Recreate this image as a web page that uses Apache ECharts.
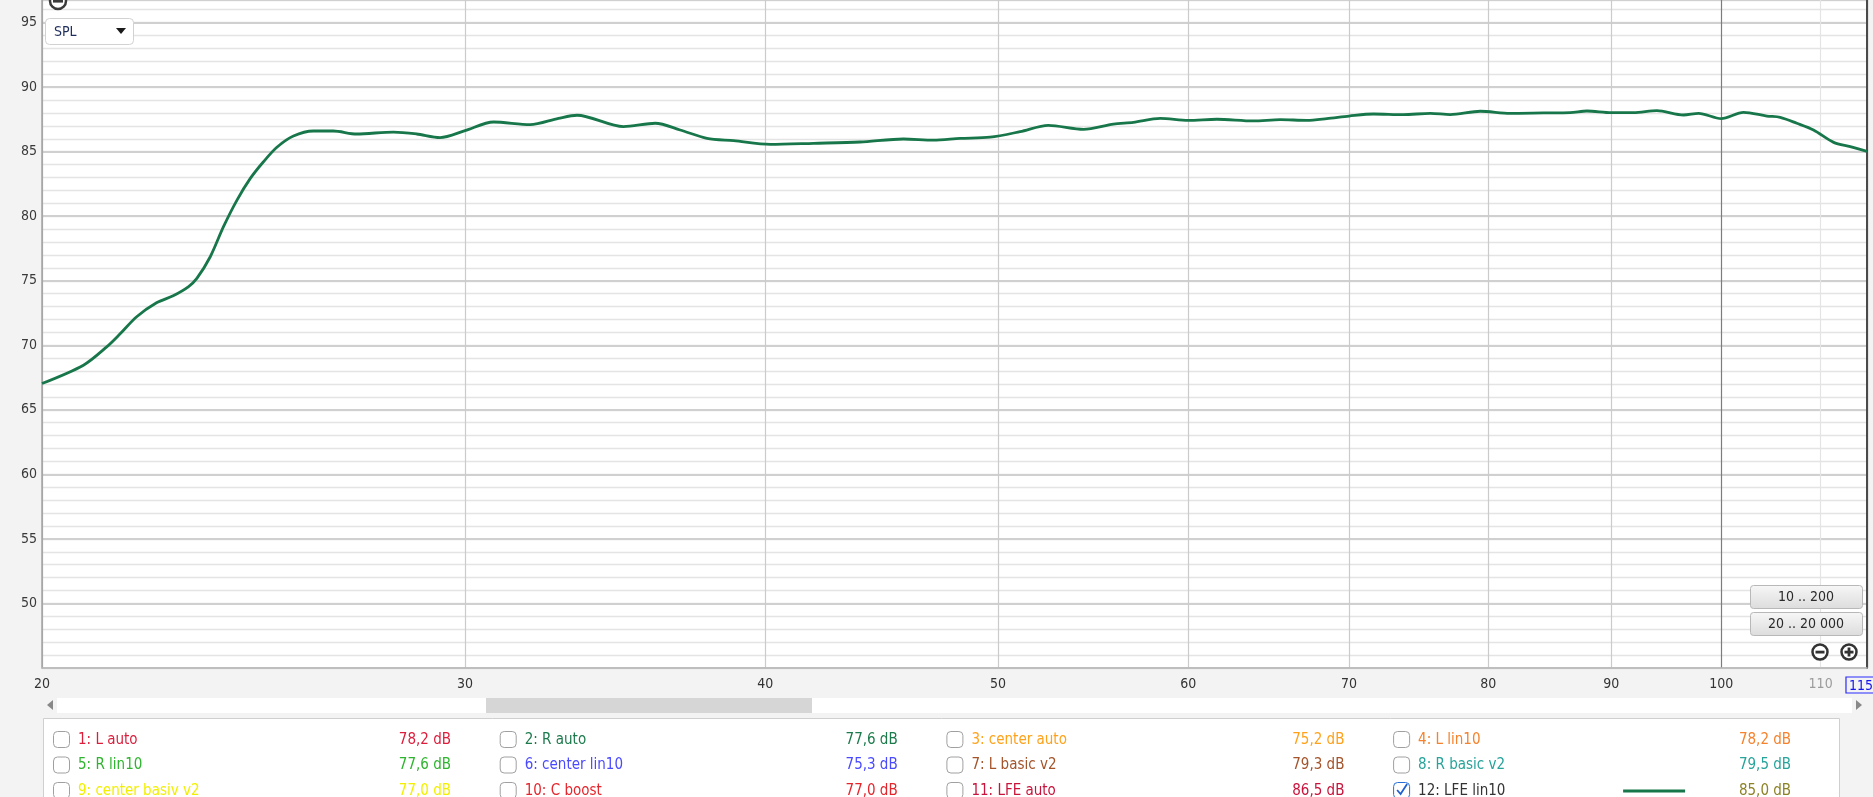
<!DOCTYPE html>
<html><head><meta charset="utf-8">
<script src="https://cdn.jsdelivr.net/npm/echarts@6/dist/echarts.min.js"></script>
<style>html,body{margin:0;padding:0;background:#f3f3f3}#c{width:1873px;height:797px}</style>
</head><body><div id="c"></div><script>
// ---- data ----
const freqHz = [20.0,20.81,21.28,21.55,21.90,22.32,22.68,23.01,23.20,23.50,23.80,24.11,24.42,24.73,25.05,25.45,25.94,26.44,27.04,28.01,28.64,29.29,30.0,30.83,31.93,32.81,33.40,34.92,36.0,36.87,37.83,38.81,40.19,41.90,43.81,45.67,47.00,48.22,49.62,51.07,52.47,54.27,55.85,56.93,58.41,60.0,61.67,63.87,65.53,67.22,68.52,70.0,71.66,73.74,75.67,77.13,79.38,81.69,84.34,86.52,87.93,90.0,91.95,94.02,96.45,97.86,100.0,102.17,104.48,105.82,107.52,109.25,111.38,113.17,115.0];
const splDb = [67.04,68.46,69.88,70.87,72.21,73.29,73.84,74.53,75.18,76.86,79.19,81.25,82.93,84.22,85.34,86.21,86.60,86.60,86.37,86.52,86.37,86.09,86.63,87.30,87.09,87.58,87.82,86.94,87.20,86.68,86.03,85.85,85.57,85.65,85.75,85.98,85.90,86.03,86.12,86.55,87.04,86.73,87.14,87.27,87.58,87.43,87.51,87.38,87.48,87.43,87.56,87.76,87.92,87.87,87.97,87.87,88.13,87.97,88.00,88.02,88.15,88.02,88.02,88.18,87.84,87.97,87.56,88.05,87.76,87.66,87.20,86.68,85.72,85.39,85.03];
const xTickValues = [20,30,40,50,60,70,80,90,100,110,115];
const yTickValues = [50,55,60,65,70,75,80,85,90,95];
const legendNames = ['1: L auto','2: R auto','3: center auto','4: L lin10','5: R lin10','6: center lin10','7: L basic v2','8: R basic v2','9: center basiv v2','10: C boost','11: LFE auto','12: LFE lin10'];
const legendValues = ['78,2 dB','77,6 dB','75,2 dB','78,2 dB','77,6 dB','75,3 dB','79,3 dB','79,5 dB','77,0 dB','77,0 dB','86,5 dB','85,0 dB'];
const legendChecked = [false,false,false,false,false,false,false,false,false,false,false,true];
const rangeButtons = ['10 .. 200','20 .. 20 000'];
const modeLabel = 'SPL';

// ---- styles ----
const legendColors = ['#dc1e3c','#1c7a4c','#ffa21a','#f5822c','#2fb42f','#4a4aff','#a4532a','#27a39a','#f2f000','#e4262c','#c8143c','#333333'];
const legendValueColors = legendColors.slice(); legendValueColors[11] = '#8c8226';
const FONT = "'Liberation Sans Narrow','DejaVu Sans Condensed','Liberation Sans','Noto Sans',sans-serif";
const CURVE = '#18774a';
const Y_MIN = 45, Y_MAX = 96.75;

const data = freqHz.map((f, i) => [f, splDb[i]]);

const g = [];
// top-left icon
g.push({type:'circle', shape:{cx:58, cy:1, r:8}, style:{fill:'#fff', stroke:'#3a3a3a', lineWidth:2.5}, z:100});
g.push({type:'rect', shape:{x:53, y:0, width:10, height:2.6}, style:{fill:'#3a3a3a'}, z:101});
// SPL dropdown
g.push({type:'rect', shape:{x:45.5, y:18.5, width:88, height:26, r:4}, style:{fill:'#fff', stroke:'#d2d2d2', lineWidth:1}, z:100});
g.push({type:'text', x:54, y:32, style:{text:modeLabel, fill:'#1f2d5c', font:'14px ' + FONT, verticalAlign:'middle'}, z:101});
g.push({type:'polygon', shape:{points:[[116,28],[126,28],[121,34]]}, style:{fill:'#1a1a1a'}, z:101});
// range buttons
rangeButtons.forEach((t, i) => {
  const y = 585 + i * 27;
  g.push({type:'rect', shape:{x:1750.5, y:y + 0.5, width:112, height:23, r:3},
    style:{fill:new echarts.graphic.LinearGradient(0,0,0,1,[{offset:0,color:'#f7f7f7'},{offset:1,color:'#dcdcdc'}]), stroke:'#b8b8b8', lineWidth:1}, z:100});
  g.push({type:'text', x:1806, y:y + 12, style:{text:t, fill:'#2a2a2a', font:'14px ' + FONT, align:'center', verticalAlign:'middle'}, z:101});
});
// zoom icons
[[1820, false], [1849, true]].forEach(([cx, plus]) => {
  g.push({type:'circle', shape:{cx, cy:652, r:7.5}, style:{fill:'#fff', stroke:'#333', lineWidth:2.5}, z:100});
  g.push({type:'rect', shape:{x:cx - 4.5, y:650.7, width:9, height:2.8}, style:{fill:'#333'}, z:101});
  if (plus) g.push({type:'rect', shape:{x:cx - 1.4, y:647.5, width:2.8, height:9}, style:{fill:'#333'}, z:101});
});
// scrollbar
g.push({type:'rect', shape:{x:57, y:698, width:1795, height:15}, style:{fill:'#ffffff'}, z:50});
g.push({type:'rect', shape:{x:486, y:698, width:326, height:15}, style:{fill:'#d6d6d6'}, z:51});
g.push({type:'polygon', shape:{points:[[47,705],[53,700],[53,710]]}, style:{fill:'#888'}, z:51});
g.push({type:'polygon', shape:{points:[[1862,705],[1856,700],[1856,710]]}, style:{fill:'#888'}, z:51});
// legend panel
g.push({type:'rect', shape:{x:43.5, y:718.5, width:1796, height:100}, style:{fill:'#fff', stroke:'#cfcfcf', lineWidth:1}, z:50});
legendNames.forEach((name, i) => {
  const col = i % 4, row = Math.floor(i / 4);
  const x0 = 53 + col * 446.7, cy = 739 + row * 25.5;
  const checked = legendChecked[i];
  g.push({type:'rect', shape:{x:x0 + 0.5, y:cy - 7.5, width:16, height:16, r:4}, style:{fill:'#fff', stroke: checked ? '#2a6fd6' : '#a0a0a0', lineWidth:1}, z:51});
  if (checked) g.push({type:'polyline', shape:{points:[[x0 + 4, cy], [x0 + 7.5, cy + 4], [x0 + 14, cy - 6]]}, style:{stroke:'#1f5fd0', lineWidth:1.8, fill:null}, z:52});
  g.push({type:'text', x:x0 + 25, y:cy + 1, style:{text:name, fill:legendColors[i], font:'15px ' + FONT, verticalAlign:'middle'}, z:52});
  g.push({type:'text', x:x0 + 398, y:cy + 1, style:{text:legendValues[i], fill:legendValueColors[i], font:'15px ' + FONT, align:'right', verticalAlign:'middle'}, z:52});
  if (checked) g.push({type:'line', shape:{x1:x0 + 230, y1:cy + 1, x2:x0 + 292, y2:cy + 1}, style:{stroke:CURVE, lineWidth:3}, z:52});
});

const chart = echarts.init(document.getElementById('c'), null, {renderer:'canvas'});
chart.setOption({
  backgroundColor:'#f3f3f3',
  animation:false,
  grid:{left:42, top:0, width:1825, height:668, show:true, backgroundColor:'#ffffff', borderWidth:0, containLabel:false, outerBoundsMode:'none'},
  xAxis:{
    type:'log', logBase:10, min:20, max:115,
    axisLine:{show:true, lineStyle:{color:'#b8b8b8', width:1.5}},
    axisTick:{show:false, customValues:xTickValues},
    splitLine:{show:true, lineStyle:{width:1.2, color:['#a8a8a8','#cbcbcb','#cbcbcb','#cbcbcb','#cbcbcb','#cbcbcb','#cbcbcb','#cbcbcb','#7c7c7c','#e4e4e4','#4a4a4a']}},
    axisLabel:{
      customValues:xTickValues, margin:9, color:'#333', fontSize:14, fontFamily:FONT,
      formatter:v => { const r = Math.round(v); if (r === 115) return '{b|115}{s|}'; if (r === 110) return '{gr|110}'; return String(r); },
      rich:{
        b:{color:'#1414ee', borderColor:'#2a2aff', borderWidth:1.2, padding:[2,2,0,3], fontSize:14, fontFamily:FONT},
        gr:{color:'#9c9c9c', fontSize:14, fontFamily:FONT},
        s:{width:13}
      }
    }
  },
  yAxis:[{
    // 1 dB grid (minor lines) + labels
    type:'value', min:Y_MIN, max:Y_MAX, interval:1,
    axisLine:{show:true, lineStyle:{color:'#a6a6a6', width:1.5}},
    axisTick:{show:false},
    axisLabel:{margin:5, color:'#3a3a3a', fontSize:14, fontFamily:FONT, showMaxLabel:false, showMinLabel:false,
      formatter:v => (yTickValues.indexOf(v) >= 0) ? String(v) : ''},
    splitLine:{show:true, lineStyle:{color:'#e4e4e4', width:1.3}}
  },{
    // 5 dB major lines
    type:'value', min:Y_MIN, max:Y_MAX, interval:5, position:'left',
    axisLine:{show:false}, axisTick:{show:false}, axisLabel:{show:false},
    splitLine:{show:true, lineStyle:{color:'#d0d0d0', width:2}}
  },{
    // right border
    type:'value', min:Y_MIN, max:Y_MAX, position:'right',
    axisLine:{show:true, lineStyle:{color:'#4a4a4a', width:2}},
    axisTick:{show:false}, axisLabel:{show:false}, splitLine:{show:false}
  }],
  series:[{
    type:'line', data, showSymbol:false, smooth:0.3, yAxisIndex:0,
    lineStyle:{color:CURVE, width:2.8}, z:10
  }],
  graphic:g
});
</script></body></html>
